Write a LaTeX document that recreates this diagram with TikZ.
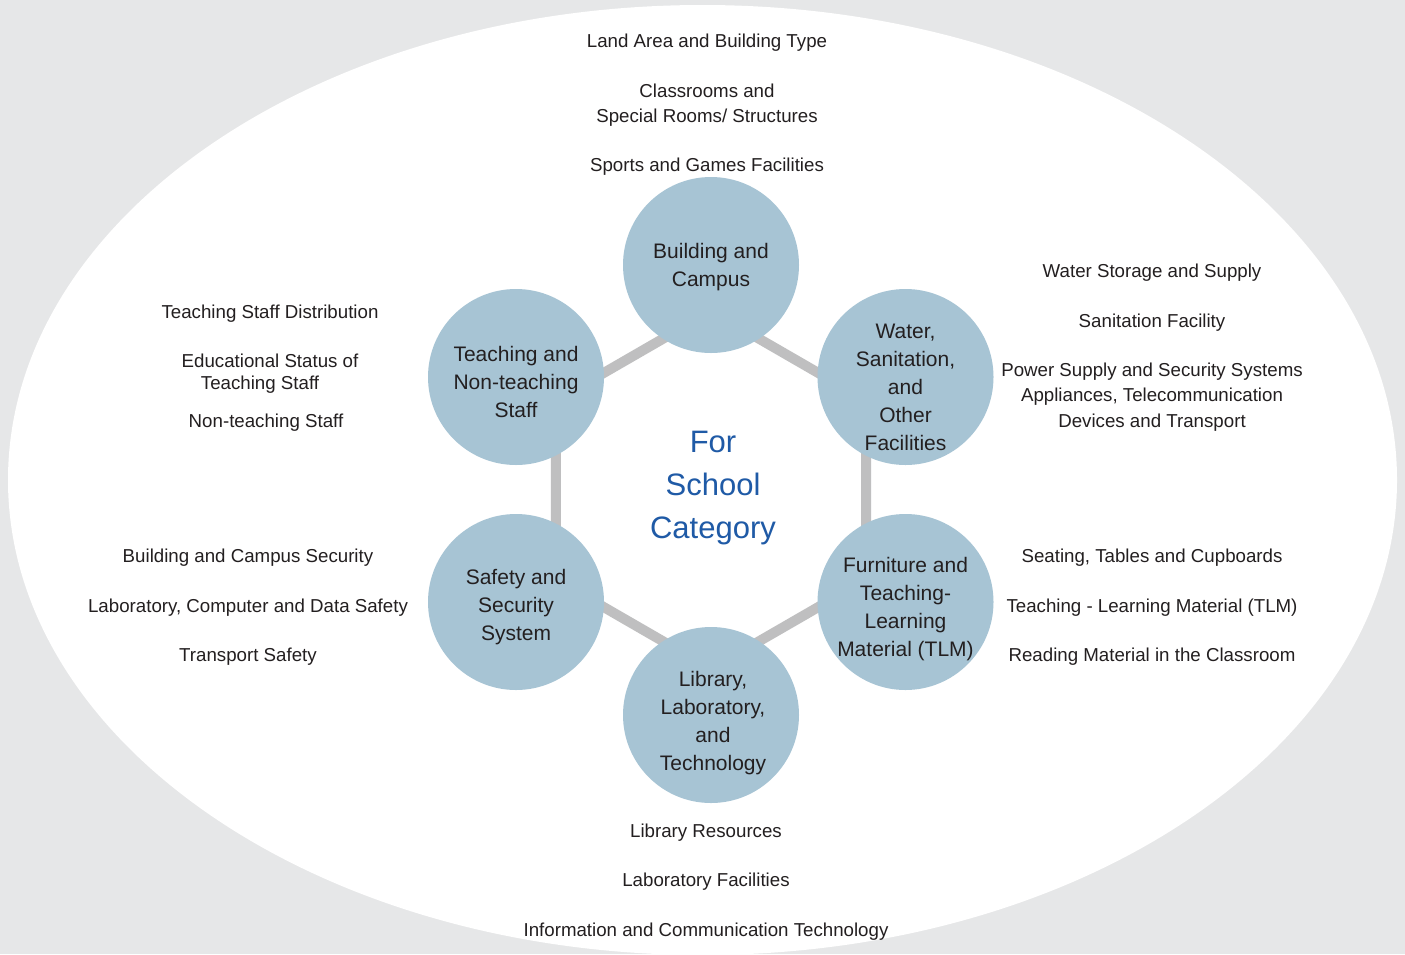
\documentclass[tikz,border=0pt]{standalone}
\usepackage{fontspec}
\setmainfont{Liberation Sans}
\usepackage{tikz}
\usetikzlibrary{calc}

\definecolor{bggrey}{HTML}{E6E7E8}
\definecolor{ringgrey}{HTML}{BFBFC0}
\definecolor{discblue}{HTML}{A7C4D4}
\definecolor{titleblue}{HTML}{1F5AA6}
\definecolor{inkdark}{HTML}{231F20}

\tikzset{
  area/.style={circle, fill=discblue, minimum size=176pt, inner sep=0pt},
  areatext/.style={align=center, inner sep=0pt, text=inkdark, font=\fontsize{21}{28}\selectfont},
  item/.style={anchor=base, inner sep=0pt, text=inkdark, font=\fontsize{18.7}{25}\selectfont},
  link/.style={ringgrey, line width=10pt}
}

\begin{document}
\begin{tikzpicture}[x=1pt, y=-1pt]
        \useasboundingbox (0,0) rectangle (1405,954);
        \fill[bggrey] (0,0) rectangle (1405,954);
        \fill[white] (702.5,480) ellipse [x radius=694.5, y radius=475];

        \coordinate (hc) at (711,490);
        \coordinate (h1) at ($(hc)+(90:179)$);
        \coordinate (h2) at ($(hc)+(30:179)$);
        \coordinate (h3) at ($(hc)+(-30:179)$);
        \coordinate (h4) at ($(hc)+(-90:179)$);
        \coordinate (h5) at ($(hc)+(-150:179)$);
        \coordinate (h6) at ($(hc)+(150:179)$);
        \draw[link] (h1)--(h2)--(h3)--(h4)--(h5)--(h6)--cycle;

        \node[area] (bld) at (711,265) {};
        \node[area] (wat) at (905.5,377) {};
        \node[area] (fur) at (905.5,602) {};
        \node[area] (lib) at (711,715) {};
        \node[area] (saf) at (516,602) {};
        \node[area] (tea) at (516,377) {};

        \node[areatext, yshift=-2pt] (bldt) at (bld) {Building and\\Campus};
        \node[areatext, yshift=-10pt] (watt) at (wat) {Water,\\Sanitation,\\and\\Other\\Facilities};
        \node[areatext, yshift=-7pt] (furt) at (fur) {Furniture and\\Teaching-\\Learning\\Material (TLM)};
        \node[areatext, yshift=-8pt, xshift=2pt] (libt) at (lib) {Library,\\Laboratory,\\and\\Technology};
        \node[areatext, yshift=-5pt] (saft) at (saf) {Safety and\\Security\\System};
        \node[areatext, yshift=-5pt] (teat) at (tea) {Teaching and\\Non-teaching\\Staff};

        \node[align=center, text=titleblue, font=\fontsize{31}{43}\selectfont] (cat) at (713,488) {For\\School\\Category};

        \node[item] (bld1) at (707,47.5) {Land Area and Building Type};
        \node[item] (bld2) at (707,97.5) {Classrooms and};
        \node[item] (bld3) at (707,122.5) {Special Rooms/ Structures};
        \node[item] (bld4) at (707,171.5) {Sports and Games Facilities};

        \node[item] (wat1) at (1152,277.5) {Water Storage and Supply};
        \node[item] (wat2) at (1152,327.5) {Sanitation Facility};
        \node[item] (wat3) at (1152,376.5) {Power Supply and Security Systems};
        \node[item] (wat4) at (1152,401.5) {Appliances, Telecommunication};
        \node[item] (wat5) at (1152,427.5) {Devices and Transport};

        \node[item] (fur1) at (1152,562.5) {Seating, Tables and Cupboards};
        \node[item] (fur2) at (1152,612.5) {Teaching - Learning Material (TLM)};
        \node[item] (fur3) at (1152,661.5) {Reading Material in the Classroom};

        \node[item] (lib1) at (706,837.5) {Library Resources};
        \node[item] (lib2) at (706,886.5) {Laboratory Facilities};
        \node[item] (lib3) at (706,936.5) {Information and Communication Technology};

        \node[item] (saf1) at (248,562.5) {Building and Campus Security};
        \node[item] (saf2) at (248,612.5) {Laboratory, Computer and Data Safety};
        \node[item] (saf3) at (248,661.5) {Transport Safety};

        \node[item] (tea1) at (270,318.5) {Teaching Staff Distribution};
        \node[item] (tea2) at (270,367.5) {Educational Status of};
        \node[item] (tea3) at (260,389.5) {Teaching Staff};
        \node[item] (tea4) at (266,427.5) {Non-teaching Staff};
    \end{tikzpicture}
\end{document}
